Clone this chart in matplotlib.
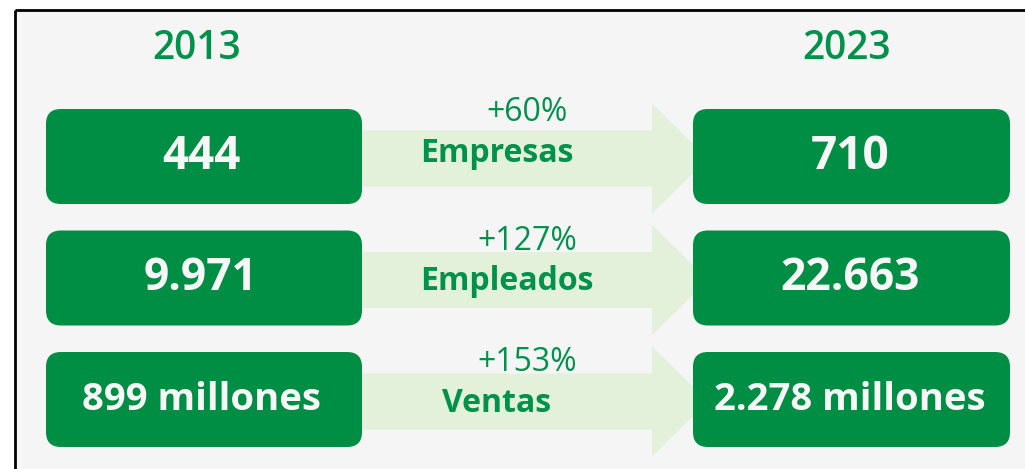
import matplotlib
matplotlib.use("Agg")
import matplotlib.pyplot as plt
from matplotlib.patches import FancyBboxPatch, Polygon, Rectangle

# data
years = ["2013", "2023"]
labels = ["Empresas", "Empleados", "Ventas"]
values_2013 = ["444", "9.971", "899 millones"]
values_2023 = ["710", "22.663", "2.278 millones"]
growth = [60, 127, 153]

# colours / layout
GREEN = "#008D44"
TEXT_GREEN = "#00914A"
ARROW = "#E3F1DB"
BG = "#F5F5F5"
plt.rcParams['font.family'] = ['Open Sans', 'DejaVu Sans']

W, H = 1025, 469
fig = plt.figure(figsize=(W / 100, H / 100), dpi=100)
fig.patch.set_facecolor("white")
ax = fig.add_axes([0, 0, 1, 1])
ax.set_xlim(0, W)
ax.set_ylim(H, 0)
ax.axis("off")

# panel with black top / left edges
ax.add_patch(Rectangle((15, 10), W - 15, H - 10, facecolor=BG, edgecolor="none"))
ax.plot([15, W], [10, 10], color="black", lw=2, solid_capstyle="butt")
ax.plot([15, 15], [10, H], color="black", lw=2, solid_capstyle="butt")

left_x0, left_x1 = 46, 362
right_x0, right_x1 = 693, 1010
box_h = 95
row_y = [156.5 + 121.5 * i for i in range(len(labels))]
value_size = [33, 32, 27.5]
label_x = [420, 420, 442]
label_dy = [5, 12, 12]
pct_dy = [-44, -37, -37]

# year headers
ax.text(197, 49, years[0], ha="center", va="center", fontsize=28, color=TEXT_GREEN,
        fontweight="semibold")
ax.text(847, 49, years[1], ha="center", va="center", fontsize=28, color=TEXT_GREEN,
        fontweight="semibold")

for i, lab in enumerate(labels):
    yc = row_y[i]
    ya = yc + 2
    # arrow behind the boxes
    shaft, head = 28, 55
    pts = [(left_x1 - 5, ya - shaft), (652, ya - shaft), (652, ya - head), (708, ya),
           (652, ya + head), (652, ya + shaft), (left_x1 - 5, ya + shaft)]
    ax.add_patch(Polygon(pts, closed=True, facecolor=ARROW, edgecolor="none"))

    for x0, x1, txt, xt in [(left_x0, left_x1, values_2013[i], 201),
                            (right_x0, right_x1, values_2023[i], 850)]:
        ax.add_patch(FancyBboxPatch((x0, yc - box_h / 2), x1 - x0, box_h,
                                    boxstyle="round,pad=0,rounding_size=15",
                                    facecolor=GREEN, edgecolor="none"))
        ax.text(xt, yc, txt, ha="center", va="center", fontsize=value_size[i],
                color="#F7F7F7", fontweight="bold")

    ax.text(label_x[i], yc + label_dy[i], lab, ha="left", va="baseline", fontsize=23,
            color=TEXT_GREEN, fontweight="bold")
    ax.text(527, yc + pct_dy[i], "+%d%%" % growth[i], ha="center", va="center",
            fontsize=23, color=TEXT_GREEN)

fig.savefig("out.png", dpi=100, facecolor=fig.get_facecolor())
